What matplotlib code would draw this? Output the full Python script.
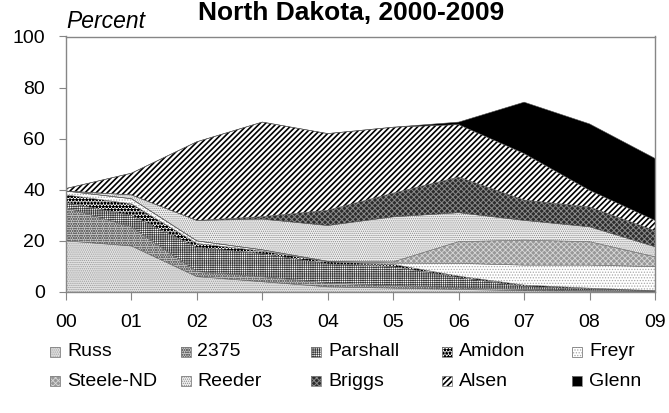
import matplotlib
matplotlib.use('Agg')
import matplotlib.pyplot as plt
from matplotlib.patches import Rectangle
import numpy as np

plt.rcParams['font.family'] = ['Liberation Sans', 'DejaVu Sans']
plt.rcParams['hatch.linewidth'] = 0.7

# share of planted acreage by variety, percent
years = ['00', '01', '02', '03', '04', '05', '06', '07', '08', '09']
russ     = [20, 18, 6, 4, 2, 1.5, 1, 0.5, 0.3, 0.1]
v2375    = [13, 7.5, 2, 2, 1.5, 1, 0.7, 0.5, 0.3, 0.1]
parshall = [2, 4.5, 9.5, 9, 7.5, 7.5, 4, 1.2, 0.6, 0.2]
amidon   = [3, 4.5, 1.5, 1, 0.8, 0.8, 0.5, 0.5, 0.3, 0.1]
freyr    = [1.5, 2, 1, 0.5, 0.2, 0.5, 5, 7.8, 9, 9.4]
steele   = [0, 0, 0, 0, 0, 0.5, 8.5, 9.8, 9.2, 3.9]
reeder   = [0, 1.5, 8, 12, 14, 17.6, 11.3, 7.7, 5.8, 3.9]
briggs   = [0, 0, 0, 1, 6, 9.3, 14, 8, 7.8, 6.3]
alsen    = [1, 8.5, 30.8, 37, 30, 25.8, 20.5, 18.2, 6.5, 4]
glenn    = [0, 0, 0, 0, 0, 0, 1, 20.1, 26, 24.3]

names = ['Russ', '2375', 'Parshall', 'Amidon', 'Freyr',
         'Steele-ND', 'Reeder', 'Briggs', 'Alsen', 'Glenn']
series = [russ, v2375, parshall, amidon, freyr, steele, reeder, briggs, alsen, glenn]

# (face, hatch, hatch colour, hatch width)
styles = [
    ('#e2e2e2', '.' * 8, '#9a9a9a', 0.6),
    ('#c8c8c8', 'o' * 7, '#6a6a6a', 0.5),
    ('#ffffff', '+' * 9, '#383838', 0.45),
    ('#ffffff', '*' * 5, '#000000', 0.6),
    ('#ffffff', '.' * 6, '#a8a8a8', 0.6),
    ('#989898', 'x' * 6, '#d8d8d8', 0.6),
    ('#f0f0f0', '.' * 8, '#8a8a8a', 0.6),
    ('#2c2c2c', 'x' * 6, '#8a8a8a', 0.7),
    ('#ffffff', '/' * 6, '#000000', 1.2),
    ('#000000', '', '#000000', 0.6),
]


def style_hatch(artist, lw):
    if hasattr(artist, 'set_hatch_linewidth'):
        artist.set_hatch_linewidth(lw)


W, H = 669, 413
fig = plt.figure(figsize=(W / 100, H / 100), dpi=100)
ax = fig.add_axes([66 / W, 1 - 292 / H, (655 - 66) / W, (292 - 36.5) / H])

x = np.arange(len(years))
bottom = np.zeros(len(x))
for vals, (face, hatch, hc, hw) in zip(series, styles):
    top = bottom + np.array(vals)
    coll = ax.fill_between(x, bottom, top, facecolor=face, edgecolor=hc,
                           hatch=hatch, linewidth=0)
    style_hatch(coll, hw)
    ax.plot(x, top, color='#505050', lw=0.4)
    bottom = top

ax.set_xlim(0, 9)
ax.set_ylim(0, 100)
ax.set_xticks(x)
ax.set_xticklabels(years)
ax.set_yticks(np.arange(0, 101, 20))
for s in ax.spines.values():
    s.set_color('#868686')
    s.set_linewidth(1)
ax.tick_params(axis='x', length=6, color='#868686', labelsize=14, pad=10)
ax.tick_params(axis='y', length=5, color='#868686', labelsize=14, pad=10)

ax.text(0, 1.012, 'Percent', transform=ax.transAxes, ha='left', va='bottom',
        fontsize=16.5, style='italic')
fig.text(351 / W, 1 - 19.5 / H, 'North Dakota, 2000-2009', ha='center',
         va='baseline', fontsize=19, fontweight='bold')

# legend, two rows of five
for i, (name, (face, hatch, hc, hw)) in enumerate(zip(names, styles)):
    row, col = divmod(i, 5)
    x0 = 50 + 130.5 * col
    yc = 352 + 29 * row
    rect = Rectangle((x0 / W, 1 - (yc + 5) / H), 10 / W, 10 / H,
                     transform=fig.transFigure, facecolor=face, edgecolor=hc,
                     hatch=hatch, linewidth=0)
    style_hatch(rect, hw)
    fig.add_artist(rect)
    fig.add_artist(Rectangle((x0 / W, 1 - (yc + 5) / H), 10 / W, 10 / H,
                             transform=fig.transFigure, facecolor='none',
                             edgecolor='#808080', linewidth=0.6))
    fig.text((x0 + 17) / W, 1 - yc / H, name, ha='left', va='center',
             fontsize=14)

fig.savefig('out.png', dpi=100)
